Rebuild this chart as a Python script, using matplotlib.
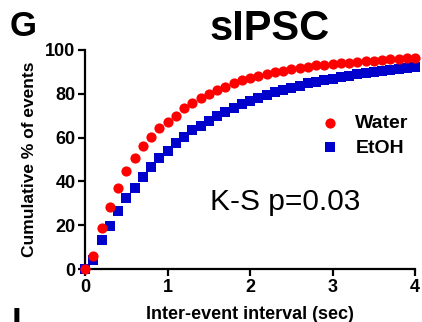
import matplotlib
matplotlib.use('Agg')
import matplotlib.pyplot as plt

# inter-event interval bins (sec)
interval = [i / 10 for i in range(41)]

# cumulative % of events
water = [0, 5.8, 19.0, 28.4, 37.2, 45.0, 50.9, 56.2, 60.5, 64.6,
         67.3, 69.9, 73.3, 75.7, 78.0, 79.9, 81.8, 83.0, 84.8, 86.3,
         87.2, 88.1, 89.1, 89.8, 90.6, 91.2, 91.8, 92.4, 92.9, 93.2,
         93.6, 93.9, 94.2, 94.5, 94.8, 95.1, 95.4, 95.7, 96.0, 96.2, 96.5]
etoh = [0, 4.3, 13.4, 19.9, 26.7, 32.4, 36.9, 41.9, 46.4, 50.5,
        54.0, 57.4, 60.3, 63.4, 65.5, 67.6, 69.9, 71.7, 73.4, 75.2,
        76.6, 78.1, 79.5, 80.7, 81.8, 82.8, 83.7, 84.7, 85.4, 86.2,
        86.9, 87.5, 88.1, 88.8, 89.4, 89.8, 90.3, 90.7, 91.2, 91.6, 92.0]

xticks = [0, 1, 2, 3, 4]
yticks = [0, 20, 40, 60, 80, 100]

plt.rcParams['font.family'] = ['Liberation Sans', 'DejaVu Sans']

fig = plt.figure(figsize=(4.22, 3.22), dpi=100)
ax = fig.add_axes([0.202, 0.164, 0.782, 0.681])

ax.scatter(interval, etoh, marker='s', s=44, color='#0000cc', label='EtOH',
           clip_on=False, zorder=3, linewidths=0)
ax.scatter(interval, water, marker='o', s=54, color='#ff0000', label='Water',
           clip_on=False, zorder=4, linewidths=0)

ax.set_xlim(0, 4)
ax.set_ylim(0, 100)
ax.set_xticks(xticks)
ax.set_yticks(yticks)
ax.spines['top'].set_visible(False)
ax.spines['right'].set_visible(False)
for s in ['left', 'bottom']:
    ax.spines[s].set_linewidth(1.6)
ax.tick_params(width=1.6, length=5, labelsize=13, pad=2)
for lab in ax.get_xticklabels() + ax.get_yticklabels():
    lab.set_fontweight('bold')

ax.set_xlabel('Inter-event interval (sec)', fontsize=13, fontweight='bold', labelpad=7)
ax.set_ylabel('Cumulative % of events', fontsize=12.5, fontweight='bold', labelpad=6)

handles, labels = ax.get_legend_handles_labels()
ax.legend(handles[::-1], labels[::-1], loc='upper left', bbox_to_anchor=(0.665, 0.785),
          frameon=False, prop={'weight': 'bold', 'size': 14},
          handletextpad=0.9, labelspacing=0.35, handlelength=0.8)

ax.text(1.51, 30.7, 'K-S p=0.03', fontsize=21.5, va='center', ha='left')

fig.text(270 / 422, 1 - 29 / 322, 'sIPSC', fontsize=30, fontweight='bold',
         ha='center', va='center')
fig.text(10 / 422, 1 - 26 / 322, 'G', fontsize=25, fontweight='bold',
         ha='left', va='center')
# top of the next panel's letter, cut off by the bottom edge as in the source
fig.text(12 / 422, -0.053, 'I', fontsize=25, fontweight='bold',
         ha='left', va='bottom')

fig.savefig('out.png', dpi=100)
